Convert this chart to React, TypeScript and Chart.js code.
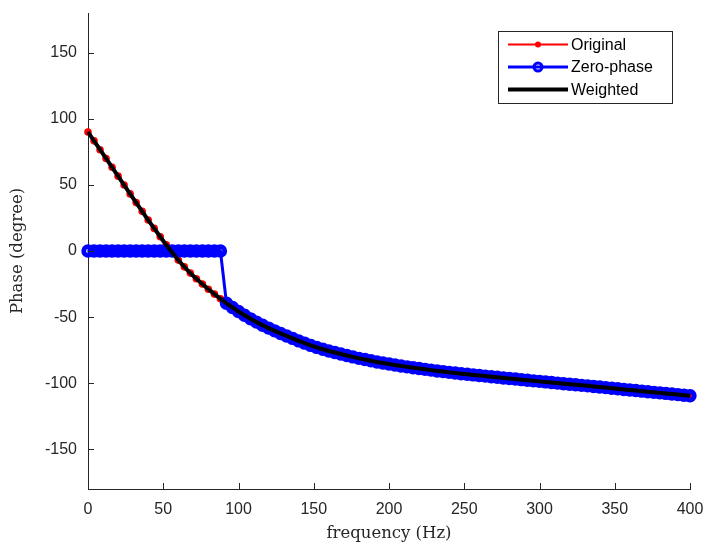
import React, { useEffect, useRef } from "react";
import { Chart, registerables } from "chart.js";

Chart.register(...registerables);

// ---------------- data ----------------
const freqHz = [
  0, 4, 8, 12, 16, 20, 24, 28, 32, 36,
  40, 44, 48, 52, 56, 60, 64, 68, 72, 76,
  80, 84, 88, 92, 96, 100, 104, 108, 112, 116,
  120, 124, 128, 132, 136, 140, 144, 148, 152, 156,
  160, 164, 168, 172, 176, 180, 184, 188, 192, 196,
  200, 204, 208, 212, 216, 220, 224, 228, 232, 236,
  240, 244, 248, 252, 256, 260, 264, 268, 272, 276,
  280, 284, 288, 292, 296, 300, 304, 308, 312, 316,
  320, 324, 328, 332, 336, 340, 344, 348, 352, 356,
  360, 364, 368, 372, 376, 380, 384, 388, 392, 396,
  400,
];

const originalPhase = [
  90, 83.3, 76.6, 70.0, 63.3, 56.6, 49.9, 43.2, 36.6, 30.0,
  23.4, 17.1, 10.8, 4.6, -1.2, -6.9, -12.0, -16.7, -21.0, -25.0,
  -28.9, -32.6, -36.1, -39.5, -42.7, -45.8, -48.6, -51.3, -53.8, -56.1,
  -58.3, -60.4, -62.4, -64.3, -66.1, -68.0, -69.7, -71.4, -72.9, -74.3,
  -75.6, -76.8, -77.9, -79.0, -80.1, -81.2, -82.1, -83.0, -83.9, -84.7,
  -85.5, -86.2, -87.0, -87.6, -88.3, -88.9, -89.5, -90.1, -90.7, -91.2,
  -91.8, -92.3, -92.8, -93.2, -93.7, -94.2, -94.6, -95.1, -95.5, -96.0,
  -96.4, -96.8, -97.3, -97.7, -98.2, -98.6, -99.0, -99.5, -99.9, -100.4,
  -100.8, -101.2, -101.6, -102.0, -102.5, -102.9, -103.3, -103.8, -104.2, -104.7,
  -105.1, -105.5, -106.0, -106.4, -106.9, -107.3, -107.7, -108.2, -108.6, -109.1,
  -109.5,
];

const zeroPhase = [
  0, 0, 0, 0, 0, 0, 0, 0, 0, 0,
  0, 0, 0, 0, 0, 0, 0, 0, 0, 0,
  0, 0, 0, -39.5, -42.7, -45.8, -48.6, -51.3, -53.8, -56.1,
  -58.3, -60.4, -62.4, -64.3, -66.1, -68.0, -69.7, -71.4, -72.9, -74.3,
  -75.6, -76.8, -77.9, -79.0, -80.1, -81.2, -82.1, -83.0, -83.9, -84.7,
  -85.5, -86.2, -87.0, -87.6, -88.3, -88.9, -89.5, -90.1, -90.7, -91.2,
  -91.8, -92.3, -92.8, -93.2, -93.7, -94.2, -94.6, -95.1, -95.5, -96.0,
  -96.4, -96.8, -97.3, -97.7, -98.2, -98.6, -99.0, -99.5, -99.9, -100.4,
  -100.8, -101.2, -101.6, -102.0, -102.5, -102.9, -103.3, -103.8, -104.2, -104.7,
  -105.1, -105.5, -106.0, -106.4, -106.9, -107.3, -107.7, -108.2, -108.6, -109.1,
  -109.5,
];

const weightedPhase = [
  90, 83.3, 76.6, 70.0, 63.3, 56.6, 49.9, 43.2, 36.6, 30.0,
  23.4, 17.1, 10.8, 4.6, -1.2, -6.9, -12.0, -16.7, -21.0, -25.0,
  -28.9, -32.6, -36.1, -39.5, -42.7, -45.8, -48.6, -51.3, -53.8, -56.1,
  -58.3, -60.4, -62.4, -64.3, -66.1, -68.0, -69.7, -71.4, -72.9, -74.3,
  -75.6, -76.8, -77.9, -79.0, -80.1, -81.2, -82.1, -83.0, -83.9, -84.7,
  -85.5, -86.2, -87.0, -87.6, -88.3, -88.9, -89.5, -90.1, -90.7, -91.2,
  -91.8, -92.3, -92.8, -93.2, -93.7, -94.2, -94.6, -95.1, -95.5, -96.0,
  -96.4, -96.8, -97.3, -97.7, -98.2, -98.6, -99.0, -99.5, -99.9, -100.4,
  -100.8, -101.2, -101.6, -102.0, -102.5, -102.9, -103.3, -103.8, -104.2, -104.7,
  -105.1, -105.5, -106.0, -106.4, -106.9, -107.3, -107.7, -108.2, -108.6, -109.1,
  -109.5,
];

const xTickValues = [0, 50, 100, 150, 200, 250, 300, 350, 400];
const yTickValues = [-150, -100, -50, 0, 50, 100, 150];
const seriesLabels = ["Original", "Zero-phase", "Weighted"];
const xTitle = "frequency (Hz)";
const yTitle = "Phase (degree)";

// ---------------- styling ----------------
const AXIS_COLOR = "#262626";
const SANS = "'Liberation Sans', Arial, Helvetica, sans-serif";
const SERIF = "'DejaVu Serif', serif";

const toPoints = (ys: number[]) => freqHz.map((x, i) => ({ x, y: ys[i] }));

const inwardTicks = {
  id: "inwardTicks",
  afterDatasetsDraw(chart: any) {
    const { ctx, chartArea, scales } = chart;
    const len = 6;
    ctx.save();
    ctx.strokeStyle = AXIS_COLOR;
    ctx.lineWidth = 1;
    ctx.beginPath();
    for (const v of xTickValues) {
      const px = Math.round(scales.x.getPixelForValue(v)) + 0.5;
      ctx.moveTo(px, chartArea.bottom);
      ctx.lineTo(px, chartArea.bottom - len);
    }
    for (const v of yTickValues) {
      const py = Math.round(scales.y.getPixelForValue(v)) + 0.5;
      ctx.moveTo(chartArea.left, py);
      ctx.lineTo(chartArea.left + len, py);
    }
    ctx.stroke();
    ctx.restore();
  },
};

const boxLegend = {
  id: "boxLegend",
  afterDraw(chart: any) {
    const { ctx, chartArea } = chart;
    const w = 174;
    const h = 72;
    const x0 = Math.round(chartArea.right - 18 - w);
    const y0 = Math.round(chartArea.top + 18);
    ctx.save();
    ctx.fillStyle = "#ffffff";
    ctx.fillRect(x0, y0, w, h);
    ctx.strokeStyle = AXIS_COLOR;
    ctx.lineWidth = 1;
    ctx.strokeRect(x0 + 0.5, y0 + 0.5, w, h);
    chart.data.datasets.forEach((ds: any, i: number) => {
      const cy = y0 + 13.5 + i * 22.5;
      const lx1 = x0 + 10;
      const lx2 = x0 + 70;
      const cx = (lx1 + lx2) / 2;
      ctx.strokeStyle = ds.borderColor;
      ctx.lineWidth = ds.borderWidth;
      ctx.beginPath();
      ctx.moveTo(lx1, cy);
      ctx.lineTo(lx2, cy);
      ctx.stroke();
      if (ds.pointRadius > 0) {
        ctx.beginPath();
        if (ds.pointBorderWidth > 0) {
          ctx.arc(cx, cy, 4, 0, Math.PI * 2);
          ctx.lineWidth = 3;
          ctx.strokeStyle = ds.pointBorderColor;
          ctx.stroke();
        } else {
          ctx.arc(cx, cy, 3, 0, Math.PI * 2);
          ctx.fillStyle = ds.pointBackgroundColor;
          ctx.fill();
        }
      }
      ctx.fillStyle = "#000000";
      ctx.font = `16px ${SANS}`;
      ctx.textAlign = "left";
      ctx.textBaseline = "middle";
      ctx.fillText(ds.label, x0 + 73, cy + 1);
    });
    ctx.restore();
  },
};

export default function App() {
  const canvasRef = useRef<HTMLCanvasElement | null>(null);

  useEffect(() => {
    if (!canvasRef.current) return;
    const chart = new Chart(canvasRef.current, {
      type: "line",
      data: {
        datasets: [
          {
            label: seriesLabels[0],
            data: toPoints(originalPhase),
            borderColor: "#ff0000",
            borderWidth: 2,
            pointRadius: 3.8,
            pointBorderWidth: 0,
            pointBackgroundColor: "#ff0000",
            pointBorderColor: "#ff0000",
            order: 3,
            clip: false,
          } as any,
          {
            label: seriesLabels[1],
            data: toPoints(zeroPhase),
            borderColor: "#0000ff",
            borderWidth: 3,
            pointRadius: 4.3,
            pointBorderWidth: 4.8,
            pointBackgroundColor: "rgba(0,0,0,0)",
            pointBorderColor: "#0000ff",
            order: 2,
            clip: false,
          } as any,
          {
            label: seriesLabels[2],
            data: toPoints(weightedPhase),
            borderColor: "#000000",
            borderWidth: 4,
            pointRadius: 0,
            pointBorderWidth: 0,
            order: 1,
            clip: false,
          } as any,
        ],
      },
      options: {
        responsive: false,
        animation: false,
        events: [],
        layout: { padding: { top: 13, right: 14, bottom: 0, left: 0 } },
        plugins: {
          legend: { display: false },
          tooltip: { enabled: false },
        },
        elements: { line: { tension: 0 } },
        scales: {
          x: {
            type: "linear",
            min: 0,
            max: 400,
            grid: { display: false, drawTicks: false },
            border: { display: true, color: AXIS_COLOR, width: 1 },
            ticks: {
              color: AXIS_COLOR,
              font: { family: SANS, size: 16 },
              padding: 11,
              maxRotation: 0,
              autoSkip: false,
            },
            afterBuildTicks: (s: any) => {
              s.ticks = xTickValues.map((v) => ({ value: v }));
            },
            afterFit: (s: any) => {
              s.height = 56;
              s.paddingLeft = 0;
              s.paddingRight = 0;
            },
            title: {
              display: true,
              text: xTitle,
              color: AXIS_COLOR,
              font: { family: SERIF, size: 16.5 },
              padding: { top: 0, bottom: 1 },
            },
          },
          y: {
            type: "linear",
            min: -180,
            max: 180,
            grid: { display: false, drawTicks: false },
            border: { display: true, color: AXIS_COLOR, width: 1 },
            ticks: {
              color: AXIS_COLOR,
              font: { family: SANS, size: 16 },
              padding: 11,
              autoSkip: false,
            },
            afterBuildTicks: (s: any) => {
              s.ticks = yTickValues.map((v) => ({ value: v }));
            },
            afterFit: (s: any) => {
              s.width = 88;
              s.paddingTop = 0;
              s.paddingBottom = 0;
            },
            title: {
              display: true,
              text: yTitle,
              color: AXIS_COLOR,
              font: { family: SERIF, size: 16.5 },
              padding: { top: 8, bottom: 0 },
            },
          },
        },
      },
      plugins: [inwardTicks, boxLegend],
    });
    return () => chart.destroy();
  }, []);

  return (
    <div
      style={{
        position: "fixed",
        left: 0,
        top: 0,
        width: 704,
        height: 545,
        background: "#ffffff",
      }}
    >
      <canvas ref={canvasRef} width={704} height={545} />
    </div>
  );
}
